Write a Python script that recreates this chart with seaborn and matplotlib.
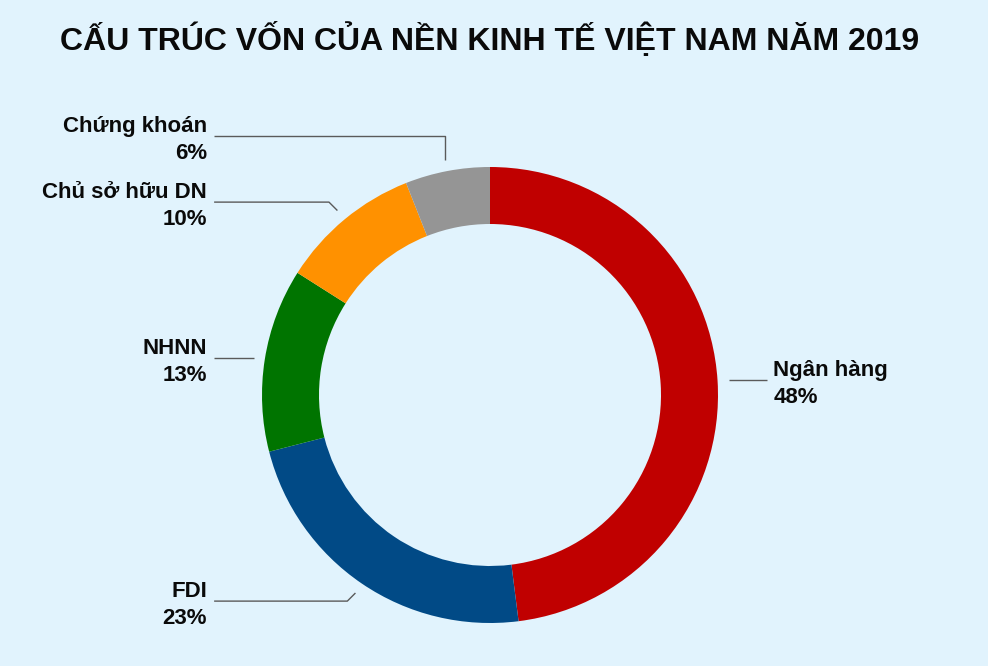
import numpy as np
import matplotlib
matplotlib.use("Agg")
import matplotlib.pyplot as plt
import seaborn as sns

categories = ["Ngân hàng", "FDI", "NHNN", "Chủ sở hữu DN", "Chứng khoán"]
values = [48, 23, 13, 10, 6]
colors = ["#c00000", "#014a86", "#007400", "#ff9100", "#959595"]
title = "CẤU TRÚC VỐN CỦA NỀN KINH TẾ VIỆT NAM NĂM 2019"

BG = "#e1f3fd"
sns.set_theme(style="white")
plt.rcParams["font.family"] = ["Liberation Sans", "DejaVu Sans"]

fig = plt.figure(figsize=(9.88, 6.66), dpi=100, facecolor=BG)
W, H = 988, 666
cx, cy, R = 490, 395, 228
ax = fig.add_axes([(cx - R) / W, (H - cy - R) / H, 2 * R / W, 2 * R / H])
ax.set_facecolor(BG)
ax.axis("off")

wedges, _ = ax.pie(values, colors=colors, startangle=90, counterclock=False,
                   radius=1.0, wedgeprops=dict(width=0.25, linewidth=0))
ax.set_xlim(-1, 1)
ax.set_ylim(-1, 1)

# label layout: vertical level of each label row
label_y = [0.066, -0.904, 0.164, 0.846, 1.136]
line_col = "#5a5a5a"
for w, name, v, ly in zip(wedges, categories, values, label_y):
    ang = np.deg2rad((w.theta1 + w.theta2) / 2)
    ax_, ay_ = 1.05 * np.cos(ang), 1.05 * np.sin(ang)
    right = np.cos(ang) > 0
    if right:
        xs = [ax_, 1.215]
        ys = [ly, ly]
        tx, ha = 1.243, "left"
    else:
        endx = -1.21
        if abs(ay_ - ly) > 0.02:
            if abs(np.cos(ang)) < 0.3:
                xs = [ax_, ax_, endx]
                ys = [ay_, ly, ly]
            else:
                dx = abs(ay_ - ly)
                xs = [ax_, ax_ - dx, endx]
                ys = [ay_, ly, ly]
        else:
            xs = [ax_, endx]
            ys = [ly, ly]
        tx, ha = -1.241, "right"
    ax.plot(xs, ys, color=line_col, lw=1.0, clip_on=False, solid_capstyle="butt")
    ax.text(tx, ly - 0.018, f"{name}\n{v}%", ha=ha, va="center", fontsize=16,
            fontweight="bold", color="#0a0a0a", linespacing=1.38, clip_on=False)

fig.text(490 / W, 1 - 40 / H, title, ha="center", va="center", fontsize=23,
         fontweight="bold", color="#0a0a0a",
         family=["Liberation Sans Narrow", "Liberation Sans", "DejaVu Sans"])

fig.savefig("out.png", dpi=100, facecolor=BG)
